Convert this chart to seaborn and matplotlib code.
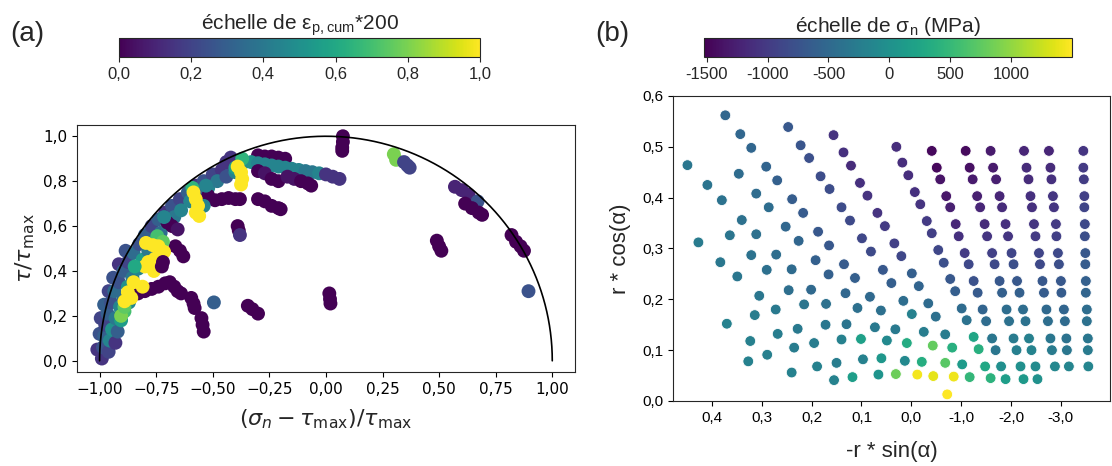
import numpy as np
import matplotlib
matplotlib.use("Agg")
import matplotlib.pyplot as plt
import seaborn as sns
from matplotlib.ticker import FuncFormatter
from matplotlib.colors import Normalize
from matplotlib.cm import ScalarMappable

# ---------------- panel (a) : normalised Mohr plane, colour = eps_p,cum*200
eps_x = [
    # just outside the arc, lower part
    -1.01, -1.0, -0.995, -0.98, -0.96, -0.94, -0.915, -0.885,
    # outer band on the arc
    -0.99, -0.985, -0.98, -0.975, -0.965, -0.95, -0.935, -0.915, -0.895, -0.875, -0.85, -0.825, -0.80,
    -0.77, -0.74, -0.71, -0.68, -0.645, -0.61, -0.575, -0.54, -0.50, -0.46, -0.42, -0.38,
    # inner band
    -0.96, -0.955, -0.945, -0.93, -0.91, -0.895, -0.875, -0.855, -0.83, -0.81, -0.785, -0.76, -0.73,
    -0.70, -0.67, -0.64, -0.60, -0.56, -0.52, -0.48, -0.44, -0.40,
    -0.93, -0.92, -0.905, -0.89, -0.87,
    # top of the cloud
    -0.30, -0.27, -0.24, -0.21, -0.18,
    -0.39, -0.36, -0.33, -0.30, -0.27, -0.24, -0.21, -0.18, -0.15, -0.12, -0.09, -0.06, -0.03,
    0.0, 0.03, 0.06,
    -0.30, -0.27, -0.24, -0.21, -0.17, -0.14, -0.11, -0.08, -0.065,
    -0.44, -0.42,
    -0.37, -0.40,
    -0.39, -0.375, -0.37, -0.375,
    # middle smears
    -0.52, -0.49, -0.46, -0.43, -0.40, -0.38,
    -0.30, -0.27, -0.24, -0.21, -0.20,
    -0.39, -0.385, -0.38,
    -0.53, -0.54, -0.59,
    -0.585, -0.575, -0.565, -0.575, -0.56,
    -0.70, -0.68, -0.655,
    -0.665, -0.645, -0.63,
    -0.715,
    -0.745, -0.72,
    -0.795, -0.765, -0.74, -0.715, -0.755, -0.785, -0.80, -0.76,
    -0.72, -0.725,
    -0.905, -0.89, -0.845,
    -0.83, -0.80, -0.77, -0.74, -0.71, -0.69, -0.67, -0.655, -0.64,
    -0.85, -0.875, -0.89, -0.86, -0.81,
    # isolated groups
    -0.595, -0.585, -0.58,
    -0.55, -0.545, -0.54,
    -0.495,
    -0.345, -0.325, -0.30,
    0.015, 0.018, 0.02,
    0.075, 0.075, 0.072, 0.072,
    0.30, 0.31, 0.345, 0.36, 0.37,
    0.57, 0.60, 0.63,
    0.67,
    0.615, 0.645, 0.675, 0.69,
    0.82, 0.84, 0.86, 0.875,
    0.895,
    0.49, 0.50, 0.51,
]
eps_y = [
    0.05, 0.12, 0.19, 0.25, 0.31, 0.37, 0.43, 0.49,
    0.01, 0.06, 0.11, 0.16, 0.21, 0.26, 0.31, 0.35, 0.40, 0.44, 0.48, 0.52, 0.56,
    0.60, 0.63, 0.66, 0.69, 0.72, 0.75, 0.78, 0.80, 0.83, 0.85, 0.87, 0.89,
    0.04, 0.09, 0.14, 0.19, 0.24, 0.28, 0.33, 0.37, 0.41, 0.45, 0.49, 0.53, 0.57,
    0.61, 0.64, 0.67, 0.71, 0.74, 0.77, 0.80, 0.82, 0.84,
    0.08, 0.13, 0.18, 0.22, 0.26,
    0.915, 0.91, 0.91, 0.905, 0.90,
    0.88, 0.885, 0.885, 0.88, 0.875, 0.87, 0.865, 0.86, 0.855, 0.85, 0.845, 0.84, 0.835,
    0.83, 0.82, 0.81,
    0.845, 0.835, 0.81, 0.80, 0.82, 0.81, 0.80, 0.79, 0.78,
    0.885, 0.905,
    0.90, 0.86,
    0.865, 0.84, 0.81, 0.785,
    0.735, 0.715, 0.72, 0.725, 0.72, 0.72,
    0.72, 0.71, 0.69, 0.68, 0.675,
    0.60, 0.58, 0.56,
    0.78, 0.69, 0.77,
    0.75, 0.72, 0.69, 0.66, 0.645,
    0.615, 0.60, 0.585,
    0.51, 0.49, 0.465,
    0.64,
    0.555, 0.53,
    0.525, 0.515, 0.51, 0.485, 0.455, 0.44, 0.42, 0.40,
    0.44, 0.42,
    0.20, 0.24, 0.42,
    0.30, 0.31, 0.32, 0.33, 0.345, 0.35, 0.33, 0.31, 0.30,
    0.35, 0.305, 0.265, 0.28, 0.33,
    0.28, 0.255, 0.235,
    0.19, 0.16, 0.13,
    0.26,
    0.245, 0.23, 0.21,
    0.30, 0.275, 0.255,
    1.00, 0.975, 0.95, 0.935,
    0.92, 0.895, 0.885, 0.87, 0.86,
    0.775, 0.76, 0.74,
    0.71,
    0.70, 0.68, 0.66, 0.65,
    0.56, 0.53, 0.51, 0.49,
    0.31,
    0.535, 0.51, 0.49,
]
eps_c = [
    0.15, 0.25, 0.20, 0.30, 0.20, 0.25, 0.15, 0.25,
    0.15, 0.25, 0.30, 0.20, 0.30, 0.25, 0.35, 0.25, 0.30, 0.20, 0.35, 0.25, 0.30,
    0.20, 0.30, 0.15, 0.25, 0.20, 0.30, 0.15, 0.25, 0.20, 0.15, 0.25, 0.20,
    0.20, 0.45, 0.50, 0.40, 0.45, 0.35, 0.50, 0.40, 0.45, 0.55, 0.40, 0.45, 0.35,
    0.50, 0.40, 0.45, 0.45, 0.30, 0.45, 0.40, 0.25, 0.45,
    0.15, 0.30, 0.55, 0.70, 0.45,
    0.0, 0.0, 0.0, 0.0, 0.0,
    0.45, 0.45, 0.50, 0.45, 0.45, 0.45, 0.45, 0.45, 0.45, 0.45, 0.40, 0.40, 0.45,
    0.15, 0.15, 0.15,
    0.0, 0.05, 0.0, 0.0, 0.05, 0.05, 0.0, 0.0, 0.0,
    0.15, 0.15,
    0.65, 0.55,
    1.0, 1.0, 1.0, 1.0,
    0.0, 0.0, 0.0, 0.0, 0.0, 0.0,
    0.0, 0.0, 0.0, 0.0, 0.0,
    0.0, 0.0, 0.15,
    0.45, 0.45, 0.65,
    1.0, 1.0, 1.0, 1.0, 1.0,
    0.0, 0.0, 0.05,
    0.0, 0.0, 0.0,
    0.45,
    0.70, 0.75,
    1.0, 1.0, 1.0, 1.0, 1.0, 1.0, 1.0, 1.0,
    0.0, 0.0,
    0.80, 0.75, 0.60,
    0.0, 0.0, 0.0, 0.0, 0.0, 0.0, 0.0, 0.0, 0.0,
    1.0, 1.0, 1.0, 1.0, 1.0,
    0.0, 0.0, 0.0,
    0.0, 0.0, 0.0,
    0.30,
    0.0, 0.0, 0.0,
    0.0, 0.0, 0.0,
    0.0, 0.0, 0.0, 0.0,
    0.80, 0.80, 0.20, 0.20, 0.20,
    0.10, 0.10, 0.10,
    0.25,
    0.0, 0.0, 0.0, 0.0,
    0.0, 0.0, 0.0, 0.0,
    0.25,
    0.0, 0.0, 0.0,
]

# ---------------- panel (b) : -r*sin(alpha), r*cos(alpha), colour = sigma_n (MPa)
sn_x = [
    0.373, 0.343, 0.321, 0.247, 0.222, 0.205, 0.156, 0.136, 0.121, 0.103, 0.088, 0.068, 0.053,
    0.449, 0.409, 0.380, 0.346, 0.311, 0.291, 0.269, 0.286, 0.239, 0.217, 0.340, 0.364, 0.311,
    0.252, 0.226, 0.182, 0.164, 0.140, 0.123, 0.187, 0.165, 0.099, 0.081,
    0.427, 0.383, 0.349, 0.321, 0.290, 0.271, 0.240, 0.192, 0.166, 0.135, 0.113, 0.057, 0.040,
    0.305, 0.246, 0.201, 0.215, 0.171, 0.132, 0.108, 0.083, 0.061,
    0.370, 0.314, 0.272, 0.228, 0.268, 0.323, 0.172, 0.130, 0.073, 0.235, 0.195, 0.140, 0.101, 0.049,
    0.327, 0.289, 0.240, 0.189, 0.150, 0.097, 0.060, 0.155, 0.118, 0.066,
    0.030, 0.018, 0.006, -0.007, -0.018, -0.031, -0.041, -0.054, -0.065, -0.078, -0.088, -0.101,
    -0.111, -0.125, -0.135, -0.148, -0.159,
    -0.041, -0.051, -0.058, -0.070, -0.078, -0.089, -0.095, -0.107, -0.115, -0.125, -0.133, -0.143,
    -0.150, -0.162, -0.169, -0.180, -0.189,
    -0.109, -0.117, -0.123, -0.132, -0.138, -0.147, -0.152, -0.162, -0.167, -0.177, -0.182, -0.191,
    -0.196, -0.205, -0.211, -0.219, -0.225,
    -0.159, -0.164, -0.170, -0.177, -0.182, -0.189, -0.194, -0.201, -0.205, -0.212, -0.217, -0.224,
    -0.229, -0.236, -0.241, -0.249, -0.253,
    -0.226, -0.231, -0.235, -0.239, -0.242, -0.246, -0.249, -0.256, -0.258, -0.263, -0.266, -0.271,
    -0.274, -0.279, -0.282, -0.288,
    -0.276, -0.279, -0.281, -0.284, -0.286, -0.290, -0.291, -0.294, -0.296, -0.300, -0.301, -0.306,
    -0.308, -0.311, -0.312, -0.316,
    -0.345, -0.345, -0.346, -0.347, -0.347, -0.348, -0.348, -0.349, -0.349, -0.350, -0.350, -0.352,
    -0.352, -0.354, -0.354, -0.355,
    0.034, 0.020, -0.001, -0.015, -0.034, -0.049, -0.068, -0.082, -0.102, -0.117,
    0.016, -0.001, -0.025, -0.043, -0.068, -0.085,
    0.032, 0.009, 0.013, -0.021, 0.031, -0.012, -0.044, -0.072,
]
sn_y = [
    0.562, 0.525, 0.498, 0.539, 0.503, 0.478, 0.523, 0.489, 0.463, 0.429, 0.404, 0.370, 0.344,
    0.464, 0.425, 0.395, 0.447, 0.408, 0.461, 0.434, 0.381, 0.397, 0.370, 0.356, 0.326, 0.328,
    0.343, 0.315, 0.442, 0.417, 0.381, 0.355, 0.333, 0.306, 0.320, 0.294,
    0.312, 0.273, 0.245, 0.287, 0.258, 0.288, 0.259, 0.277, 0.249, 0.269, 0.242, 0.258, 0.232,
    0.207, 0.218, 0.219, 0.190, 0.191, 0.212, 0.183, 0.205, 0.178,
    0.152, 0.169, 0.180, 0.142, 0.132, 0.118, 0.150, 0.151, 0.145, 0.105, 0.114, 0.121, 0.122, 0.119,
    0.078, 0.091, 0.056, 0.068, 0.075, 0.082, 0.084, 0.041, 0.047, 0.052,
    0.500, 0.469, 0.444, 0.411, 0.387, 0.354, 0.330, 0.297, 0.272, 0.240, 0.216, 0.182,
    0.159, 0.126, 0.102, 0.068, 0.045,
    0.492, 0.459, 0.436, 0.403, 0.381, 0.348, 0.324, 0.291, 0.269, 0.236, 0.213, 0.180,
    0.157, 0.123, 0.100, 0.068, 0.043,
    0.492, 0.459, 0.436, 0.403, 0.381, 0.348, 0.324, 0.291, 0.269, 0.236, 0.213, 0.180,
    0.157, 0.123, 0.100, 0.068, 0.043,
    0.492, 0.459, 0.436, 0.403, 0.381, 0.348, 0.324, 0.291, 0.269, 0.236, 0.213, 0.180,
    0.157, 0.123, 0.100, 0.068, 0.043,
    0.492, 0.459, 0.436, 0.403, 0.381, 0.348, 0.324, 0.291, 0.269, 0.236, 0.213, 0.180,
    0.157, 0.123, 0.100, 0.068,
    0.492, 0.459, 0.436, 0.403, 0.381, 0.348, 0.324, 0.291, 0.269, 0.236, 0.213, 0.180,
    0.157, 0.123, 0.100, 0.068,
    0.492, 0.459, 0.436, 0.403, 0.381, 0.348, 0.324, 0.291, 0.269, 0.236, 0.213, 0.180,
    0.157, 0.123, 0.100, 0.068,
    0.310, 0.285, 0.251, 0.226, 0.192, 0.166, 0.131, 0.105, 0.072, 0.047,
    0.197, 0.171, 0.136, 0.109, 0.075, 0.048,
    0.141, 0.114, 0.079, 0.077, 0.053, 0.052, 0.049, 0.013,
]
sn_val = [
    -520, -520, -540, -700, -720, -780, -1080, -1100, -1150, -1100, -1080, -1060, -1000,
    -330, -360, -380, -460, -470, -560, -600, -450, -640, -660, -400, -350, -420,
    -520, -540, -820, -820, -830, -840, -700, -700, -880, -840,
    -280, -320, -330, -380, -420, -440, -480, -600, -600, -660, -620, -700, -620,
    -330, -430, -500, -350, -400, -520, -420, -500, -420,
    -200, -250, -300, -300, -250, -220, -320, -360, -300, -260, -260, -200, 180, -100,
    -200, -220, -200, -200, -250, -200, 80, -180, 160, 40,
    -1120, -1120, -1120, -1100, -1060, -1000, -960, -880, -780, -700, -630, -480,
    -380, 250, 380, 280, 420,
    -1460, -1460, -1360, -1340, -1260, -1200, -1100, -1000, -860, -760, -660, -560,
    -460, -340, -330, -30, 160,
    -1440, -1400, -1300, -1250, -1200, -1150, -1050, -950, -850, -700, -600, -450,
    -400, -280, -230, -20, 100,
    -1300, -1300, -1250, -1200, -1150, -1100, -1050, -900, -800, -700, -600, -450,
    -380, -220, -170, -80, -10,
    -1200, -1150, -1150, -1100, -1100, -1050, -1000, -900, -850, -700, -650, -500,
    -440, -330, -280, -120,
    -1200, -1150, -1100, -1050, -1050, -1000, -950, -850, -800, -700, -650, -550,
    -480, -380, -330, -150,
    -1050, -1000, -980, -950, -900, -850, -800, -700, -650, -600, -550, -450,
    -400, -340, -280, -150,
    -950, -880, -620, -560, -480, -420, -260, 380, 120, 480,
    -450, -200, -250, 780, 720, 1420,
    -300, 330, -100, 350, 820, 1450, 1380, 1500,
]

eps_ticks = [0.0, 0.2, 0.4, 0.6, 0.8, 1.0]
sn_ticks = [-1500, -1000, -500, 0, 500, 1000]
sn_range = (-1520, 1500)
rx_ticks = [0.4, 0.3, 0.2, 0.1, 0.0, -0.1, -0.2, -0.3]
rx_ticklabels = ["0,4", "0,3", "0,2", "0,1", "0,0", "-1,0", "-2,0", "-3,0"]
ry_ticks = [0.0, 0.1, 0.2, 0.3, 0.4, 0.5, 0.6]

sns.set_style("ticks")
plt.rcParams['font.family'] = ['DejaVu Sans']
ARIAL = 'Liberation Sans'

fig = plt.figure(figsize=(11.12, 4.66), dpi=100)

# ---- (a)
axa = fig.add_axes([0.0692, 0.2017, 0.4478, 0.530])
sns.scatterplot(x=eps_x, y=eps_y, hue=eps_c, palette="viridis", hue_norm=(0, 1),
                s=100, linewidth=0, legend=False, ax=axa)
th = np.linspace(0, np.pi, 300)
axa.plot(np.cos(th), np.sin(th), color="black", lw=1.2, zorder=5)
axa.set_xlim(-1.1, 1.1)
axa.set_ylim(-0.05, 1.05)
axa.set_xticks(np.arange(-1.0, 1.01, 0.25))
axa.set_yticks(np.arange(0.0, 1.01, 0.2))
axa.xaxis.set_major_formatter(FuncFormatter(lambda v, p: f"{v:.2f}".replace('.', ',').replace('-', '\u2212')))
axa.yaxis.set_major_formatter(FuncFormatter(lambda v, p: f"{v:.1f}".replace('.', ',')))
axa.tick_params(labelsize=11, colors="black")
axa.set_xlabel(r"$(\sigma_n - \tau_{\max})/\tau_{\max}$", fontsize=16, labelpad=8)
axa.set_ylabel(r"$\tau/\tau_{\max}$", fontsize=16, labelpad=4)

caxa = fig.add_axes([0.107, 0.877, 0.3246, 0.0408])
cba = fig.colorbar(ScalarMappable(Normalize(0, 1), cmap="viridis"), cax=caxa, orientation="horizontal")
cba.set_ticks(eps_ticks)
cba.set_ticklabels([f"{t:.1f}".replace('.', ',') for t in eps_ticks], fontfamily=ARIAL, fontsize=12)
caxa.set_title(r"échelle de ε$\mathregular{_{p,cum}}$*200", fontfamily=ARIAL, fontsize=15, pad=4)

# ---- (b)
axb = fig.add_axes([0.6052, 0.1395, 0.3928, 0.6545])
sns.scatterplot(x=sn_x, y=sn_y, hue=sn_val, palette="viridis", hue_norm=sn_range,
                s=60, linewidth=0.6, edgecolor="white", legend=False, ax=axb)
axb.set_xlim(0.478, -0.398)
axb.set_ylim(0.0, 0.6)
axb.set_xticks(rx_ticks)
axb.set_xticklabels(rx_ticklabels, fontfamily=ARIAL, fontsize=11)
axb.set_yticks(ry_ticks)
axb.set_yticklabels([f"{t:.1f}".replace('.', ',') for t in ry_ticks], fontfamily=ARIAL, fontsize=11)
axb.tick_params(colors="black")
axb.set_xlabel("-r * sin(α)", fontfamily=ARIAL, fontsize=16, labelpad=12)
axb.set_ylabel("r * cos(α)", fontfamily=ARIAL, fontsize=16, labelpad=8)

caxb = fig.add_axes([0.6334, 0.877, 0.3304, 0.0408])
cbb = fig.colorbar(ScalarMappable(Normalize(*sn_range), cmap="viridis"), cax=caxb, orientation="horizontal")
cbb.set_ticks(sn_ticks)
cbb.set_ticklabels([str(t) for t in sn_ticks], fontfamily=ARIAL, fontsize=12)
caxb.set_title(r"échelle de σ$\mathregular{_n}$ (MPa)", fontfamily=ARIAL, fontsize=15, pad=4)

fig.text(0.009, 0.927, "(a)", fontfamily=ARIAL, fontsize=20, va="center")
fig.text(0.535, 0.927, "(b)", fontfamily=ARIAL, fontsize=20, va="center")

fig.savefig("out.png", dpi=100)
